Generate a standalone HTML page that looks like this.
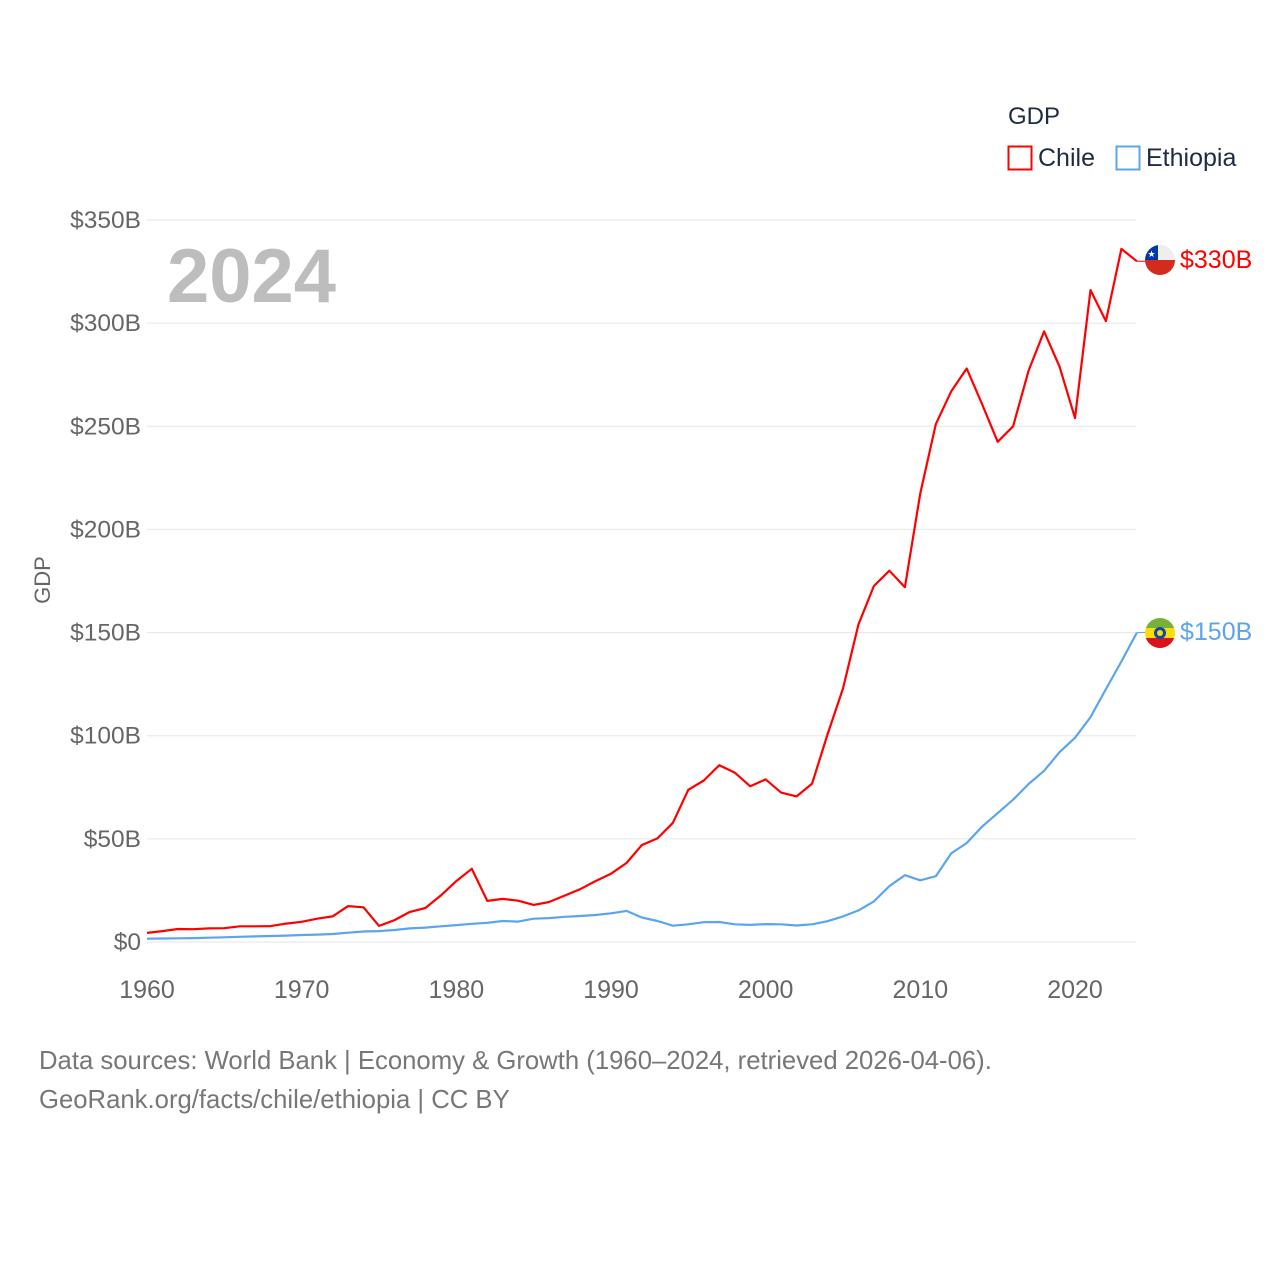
<!DOCTYPE html>
<html><head><meta charset="utf-8"><style>
body{margin:0;background:#fff;font-family:"Liberation Sans",sans-serif}
svg text{font-family:"Liberation Sans",sans-serif}
</style></head><body>
<svg width="1280" height="1280" viewBox="0 0 1280 1280">
<defs>
<clipPath id="cc"><circle cx="1160" cy="260" r="15"/></clipPath>
<clipPath id="ce"><circle cx="1160" cy="633" r="15"/></clipPath>
</defs>
<g id="grid"></g>
<g id="yt"></g>
<g id="xt"></g>
<text x="167" y="302" font-size="76" font-weight="bold" fill="#bdbdbd">2024</text>
<text transform="translate(50,580) rotate(-90)" text-anchor="middle" font-size="22" fill="#666">GDP</text>
<g id="lines"></g>
<text x="1008" y="124" font-size="24" fill="#1d2b44">GDP</text>
<g><rect x="1008.5" y="146.5" width="23" height="23" fill="none" stroke="#f00" stroke-width="2"/><text x="1038" y="166" font-size="25" fill="#1d2b44">Chile</text></g>
<g><rect x="1116.5" y="146.5" width="23" height="23" fill="none" stroke="#5aa5ee" stroke-width="2"/><text x="1146" y="166" font-size="25" fill="#1d2b44">Ethiopia</text></g>
<g clip-path="url(#cc)">
<rect x="1145" y="245" width="30" height="15" fill="#eee"/><rect x="1145" y="260" width="30" height="15" fill="#d52b1e"/><rect x="1145" y="245" width="13" height="15" fill="#0039a6"/>
<text x="1151.5" y="257" font-size="9" fill="#fff" text-anchor="middle">★</text></g>
<g clip-path="url(#ce)">
<rect x="1145" y="618" width="30" height="10" fill="#78b13a"/><rect x="1145" y="628" width="30" height="10" fill="#fcdd09"/><rect x="1145" y="638" width="30" height="10" fill="#da121a"/>
<circle cx="1160" cy="633" r="6" fill="#0f47af"/><circle cx="1160" cy="633" r="3" fill="#fcdd09"/></g>
<text x="1180" y="268" font-size="25" fill="#f00">$330B</text>
<text x="1180" y="640" font-size="25" fill="#5aa5ee">$150B</text>
<text x="39" y="1069" font-size="25.7" fill="#777">Data sources: World Bank | Economy &amp; Growth (1960–2024, retrieved 2026-04-06).</text>
<text x="39" y="1108" font-size="25.7" fill="#777">GeoRank.org/facts/chile/ethiopia | CC BY</text>
</svg>
<script>
const years=[];for(let y=1960;y<=2024;y++)years.push(y);
const chile=[4.4,5.3,6.3,6.2,6.6,6.7,7.6,7.6,7.7,8.9,9.8,11.3,12.4,17.4,16.8,7.8,10.6,14.6,16.5,22.6,29.5,35.5,19.9,20.9,20.0,18.0,19.4,22.5,25.6,29.5,33.1,38.3,47,50.2,57.8,73.8,78.3,85.7,82.1,75.5,78.8,72.4,70.6,76.8,100.6,122.9,154,172.6,180,172,217.5,251,267,278,260.6,242.5,250,277,296,279,254,316,301,336,330];
const ethiopia=[1.6,1.7,1.8,1.9,2.1,2.3,2.5,2.7,2.9,3.1,3.4,3.6,3.9,4.5,5.1,5.3,5.8,6.6,7.0,7.6,8.2,8.8,9.3,10.2,9.9,11.3,11.6,12.2,12.6,13.1,13.9,15.1,11.9,10.2,7.9,8.6,9.6,9.7,8.6,8.3,8.7,8.6,8.0,8.6,10.1,12.4,15.3,19.7,27.1,32.4,29.9,31.9,43,48,56,62.5,69,76.6,83,92,99,109,122.6,136,150];
const yTicks=[0,50,100,150,200,250,300,350];
const yTickLabels=["$0","$50B","$100B","$150B","$200B","$250B","$300B","$350B"];
const xTicks=[1960,1970,1980,1990,2000,2010,2020];
const NS="http://www.w3.org/2000/svg";
const X=y=>147+(y-1960)*(1075-147)/60;
const Y=v=>942-v*(942-220)/350;
function mk(t,a,p){const e=document.createElementNS(NS,t);for(const k in a)e.setAttribute(k,a[k]);p.appendChild(e);return e;}
const grid=document.getElementById('grid'),yt=document.getElementById('yt'),xt=document.getElementById('xt'),lines=document.getElementById('lines');
yTicks.forEach((v,i)=>{
 const l=mk('line',{x1:147,x2:1136,y1:Y(v),y2:Y(v),stroke:'#e6e6e6','stroke-width':1},grid);
 
 
 const t=mk('text',{x:141,y:Y(v)+8,'text-anchor':'end','font-size':24.5,fill:'#666'},yt);
 t.textContent=yTickLabels[i];
 
 
});
xTicks.forEach(v=>{
 const t=mk('text',{x:X(v),y:998,'text-anchor':'middle','font-size':25,fill:'#666'},xt);
 t.textContent=v;
 
 
});
function line(d,c,name){
 const p=mk('path',{d:d.map((v,i)=>(i?'L':'M')+X(years[i]).toFixed(1)+','+Y(v).toFixed(1)).join(''),fill:'none',stroke:c,'stroke-width':2.2,'stroke-linejoin':'round'},lines);
 
 
 const last=d[d.length-1];
 mk('line',{x1:X(2024),x2:1145,y1:Y(last),y2:Y(last),stroke:c,'stroke-width':1},lines);
}
line(ethiopia,'#5aa5ee','ethiopia-line');
line(chile,'#f00','chile-line');
</script>
</body></html>
